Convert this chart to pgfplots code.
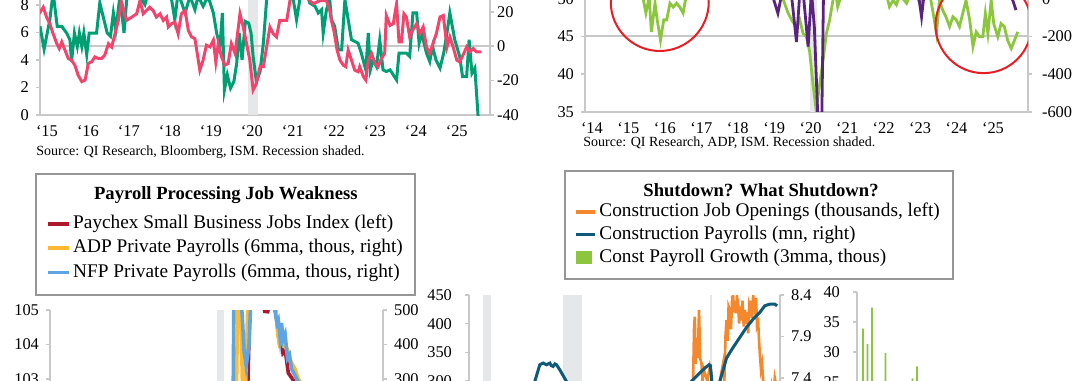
\documentclass[border=0pt]{standalone}
\usepackage{pgfplots}
\pgfplotsset{compat=1.18}
\usepackage{fontspec}
\setmainfont{Liberation Serif}
\definecolor{axgray}{RGB}{200,200,200}
\definecolor{shadegray}{RGB}{230,231,232}
\definecolor{boxgray}{RGB}{150,150,150}
\definecolor{teal1}{RGB}{0,158,115}
\definecolor{pink1}{RGB}{240,70,110}
\definecolor{lgreen}{RGB}{140,198,63}
\definecolor{purp}{RGB}{90,35,125}
\definecolor{circred}{RGB}{232,30,36}
\definecolor{dred}{RGB}{175,25,45}
\definecolor{gold}{RGB}{252,185,50}
\definecolor{sky}{RGB}{95,165,225}
\definecolor{orng}{RGB}{245,135,45}
\definecolor{petrol}{RGB}{15,90,120}
\pgfplotsset{
  base/.style={scale only axis,
    axis line style={draw=axgray, line width=1pt},
    major tick length=2pt, tick align=outside,
    tick style={draw=axgray, line width=0.8pt},
    ticklabel style={font=\fontsize{8.2}{9}\selectfont, text=black},
    /pgf/number format/assume math mode=true},
  leftax/.style={base, axis x line*=bottom, axis y line*=left, xtick style={draw=none}},
  rightax/.style={base, axis x line=none, axis y line*=right},
}
\newcommand{\legfont}{\fontsize{9.65}{11.5}\selectfont}
\newcommand{\legtfont}{\fontsize{9.3}{11}\selectfont}
\begin{document}
\begin{tikzpicture}
\useasboundingbox (0,0) rectangle (540pt,-190pt);
\clip (0,0) rectangle (540pt,-190pt);

% ---------------- Panel 1 ----------------
\begin{axis}[leftax, at={(20pt,-57.5pt)}, anchor=south west, width=225pt, height=68.75pt,
  xmin=2014.83, xmax=2025.81, ymin=0, ymax=10, ytick={0,2,...,10},
  xtick={2015,...,2025}, xticklabels={`15,`16,`17,`18,`19,`20,`21,`22,`23,`24,`25}]
\fill[shadegray] (axis cs:2019.9,0) rectangle (axis cs:2020.15,10);
\draw[axgray, line width=1pt] (axis cs:2014.83,5) -- (axis cs:2025.81,5);
\addplot[teal1, line width=1.5pt] coordinates {
(2014.83,6.45)(2014.93,4.79)(2015.07,6.93)(2015.15,8.9)(2015.25,6.45)(2015.36,6.45)(2015.48,5.96)(2015.56,5.47)(2015.60,3.89)(2015.67,5.96)(2015.74,4.99)(2015.79,5.96)(2015.85,4.99)(2015.90,5.96)(2015.97,4.38)(2016.03,5.96)(2016.21,5.96)(2016.29,8.15)(2016.39,6.93)(2016.47,5.96)(2016.55,5.72)(2016.62,7.42)(2016.68,6.20)(2016.78,8.64)(2016.88,5.96)(2016.96,8.9)(2017.07,9.85)(2017.19,9.37)(2017.31,8.4)(2017.39,8.03)(2017.47,8.9)(2017.59,9.85)(2017.76,9.37)(2017.92,9.12)(2018.04,8.4)(2018.12,6.93)(2018.20,8.9)(2018.37,7.42)(2018.49,8.64)(2018.61,7.66)(2018.69,8.64)(2018.81,7.91)(2018.93,8.64)(2019.06,7.42)(2019.14,5.96)(2019.22,4.99)(2019.28,7.42)(2019.33,1.82)(2019.40,2.92)(2019.48,1.95)(2019.56,2.43)(2019.63,3.77)(2019.69,5.96)(2019.76,4.01)(2019.84,6.81)(2019.92,6.69)(2019.98,5.96)(2020.03,4.26)(2020.11,2.43)(2020.20,3.16)(2020.28,5.23)(2020.36,8.4)(2020.48,9.37)(2020.68,9.85)(2021.01,8.4)(2021.09,6.93)(2021.17,8.4)(2021.29,9.37)(2021.41,8.15)(2021.54,7.91)(2021.62,7.42)(2021.70,7.66)(2021.74,5.96)(2021.82,7.66)(2021.90,8.4)(2021.94,6.93)(2022.02,6.45)(2022.11,4.74)(2022.19,4.74)(2022.27,8.4)(2022.35,6.93)(2022.43,5.47)(2022.51,5.35)(2022.59,5.23)(2022.67,4.5)(2022.78,3.28)(2022.84,5.96)(2022.89,3.28)(2022.96,4.01)(2023.04,3.53)(2023.12,5.47)(2023.20,3.28)(2023.28,3.16)(2023.37,3.28)(2023.45,2.92)(2023.53,2.55)(2023.59,4.5)(2023.67,4.5)(2023.77,4.5)(2023.85,4.26)(2023.93,7.42)(2024.02,7.42)(2024.08,5.23)(2024.14,5.96)(2024.22,4.99)(2024.26,4.5)(2024.34,3.89)(2024.41,4.99)(2024.49,4.01)(2024.59,3.41)(2024.68,4.5)(2024.76,5.96)(2024.83,7.42)(2024.89,6.45)(2024.95,5.47)(2025.07,4.26)(2025.14,2.80)(2025.24,2.80)(2025.30,5.47)(2025.37,3.04)(2025.44,3.41)(2025.52,-0.1)};
\end{axis}
\begin{axis}[rightax, at={(20pt,-57.5pt)}, anchor=south west, width=225pt, height=68.75pt,
  xmin=2014.83, xmax=2025.81, ymin=-40, ymax=40, ytick={-40,-20,...,40},
  yticklabel style={xshift=-2pt}]
\addplot[pink1, line width=1.5pt] coordinates {
(2014.81,18.9)(2014.91,22.7)(2014.99,17.0)(2015.07,13.1)(2015.15,7.3)(2015.24,1.5)(2015.30,-1.3)(2015.36,2.5)(2015.44,-2.3)(2015.52,-7.1)(2015.60,-8.1)(2015.68,-11.0)(2015.76,-16.8)(2015.85,-20.6)(2015.93,-19.7)(2016.01,-10.0)(2016.09,-9.1)(2016.17,-6.2)(2016.25,-7.1)(2016.33,-7.1)(2016.41,-5.2)(2016.50,1.5)(2016.58,-0.4)(2016.66,7.3)(2016.74,15.0)(2016.82,25.6)(2016.94,15.0)(2017.07,17.0)(2017.19,18.9)(2017.27,26.6)(2017.35,18.9)(2017.43,20.8)(2017.51,22.7)(2017.59,20.8)(2017.67,17.0)(2017.76,18.9)(2017.84,15.0)(2017.92,17.0)(2017.96,11.2)(2018.04,13.1)(2018.12,14.1)(2018.20,7.3)(2018.28,18.9)(2018.37,20.8)(2018.45,9.2)(2018.53,5.4)(2018.61,4.4)(2018.73,-13.9)(2018.81,-8.1)(2018.89,0.6)(2018.98,-0.4)(2019.06,3.5)(2019.12,-9.1)(2019.18,1.5)(2019.26,-6.2)(2019.34,-11.0)(2019.42,-10.0)(2019.50,1.5)(2019.59,-4.2)(2019.64,5.4)(2019.71,18.9)(2019.79,11.2)(2019.87,1.5)(2019.95,-8.1)(2020.03,-25.4)(2020.11,-21.6)(2020.20,-11.9)(2020.28,-11.9)(2020.36,-0.4)(2020.44,11.2)(2020.52,7.3)(2020.60,5.4)(2020.68,15.0)(2020.76,15.0)(2020.85,15.0)(2020.93,26.6)(2021.01,30)(2021.2,34)(2021.41,26.6)(2021.50,24.7)(2021.66,26.6)(2021.82,26.6)(2021.90,20.8)(2021.94,15.0)(2022.00,9.2)(2022.08,-2.3)(2022.15,-8.1)(2022.23,-11.0)(2022.29,-11.9)(2022.35,-2.3)(2022.43,-8.1)(2022.51,-13.9)(2022.59,-14.8)(2022.63,-11.9)(2022.72,-17.7)(2022.78,-19.7)(2022.84,-8.1)(2022.92,-4.2)(2023.00,-10.0)(2023.08,-11.9)(2023.16,-7.1)(2023.24,-4.2)(2023.28,17.9)(2023.37,12.1)(2023.45,13.1)(2023.53,24.7)(2023.59,2.5)(2023.65,2.5)(2023.71,18.9)(2023.77,17.0)(2023.85,5.4)(2023.92,9.2)(2024.02,13.1)(2024.10,7.3)(2024.18,11.2)(2024.26,-0.4)(2024.34,-4.2)(2024.42,1.5)(2024.50,7.3)(2024.59,17.0)(2024.67,17.9)(2024.76,-0.4)(2024.83,5.4)(2024.91,-0.4)(2025.00,-8.1)(2025.07,-9.1)(2025.15,-5.2)(2025.24,-0.4)(2025.32,-3.3)(2025.40,-1.3)(2025.48,-3.3)(2025.60,-3.3)};
\end{axis}
\node[anchor=west, inner sep=0, font=\fontsize{7}{8}\selectfont] at (18pt,-76pt) {Source: QI Research, Bloomberg, ISM. Recession shaded.};

% ---------------- Panel 2 ----------------
\begin{axis}[leftax, at={(292.5pt,-55.85pt)}, anchor=south west, width=221.5pt, height=94.1pt,
  xmin=2013.81, xmax=2025.96, ymin=35, ymax=60, ytick={35,40,...,60},
  xtick={2014,...,2025}, xticklabels={`14,`15,`16,`17,`18,`19,`20,`21,`22,`23,`24,`25}]
\fill[shadegray] (axis cs:2019.97,35) rectangle (axis cs:2020.16,60);
\draw[axgray, line width=1pt] (axis cs:2013.81,45) -- (axis cs:2025.96,45);
\addplot[lgreen, line width=1.4pt] coordinates {
(2013.81,53.5)(2014.0,54)(2014.3,56)(2014.6,55)(2014.9,57)(2015.1,55)(2015.3,52)(2015.41,49.9)(2015.48,48.1)(2015.57,50.2)(2015.63,45.6)(2015.73,49.4)(2015.79,47.2)(2015.88,44.5)(2015.97,47.2)(2016.05,47.2)(2016.14,49.4)(2016.23,48.9)(2016.32,49.4)(2016.41,48.9)(2016.50,48.1)(2016.59,50.5)(2016.8,53)(2017.2,56)(2017.7,55)(2018.2,57)(2018.7,56)(2019.0,53)(2019.2,50.5)(2019.38,48.1)(2019.5,47.0)(2019.61,46.3)(2019.70,47.2)(2019.79,45.4)(2019.88,45.0)(2019.97,43)(2020.06,38.8)(2020.15,35.2)(2020.25,38.8)(2020.34,41.9)(2020.43,45.4)(2020.52,47.2)(2020.61,49.8)(2020.68,51)(2020.74,48.95)(2020.84,50.5)(2021.0,53)(2021.5,56)(2022.0,52)(2022.16,48.95)(2022.26,49.8)(2022.35,49.2)(2022.44,50.5)(2022.53,50.0)(2022.63,49.4)(2022.72,50.5)(2022.81,50.1)(2022.90,50.6)(2022.99,49.4)(2023.08,50.3)(2023.17,51)(2023.27,50.5)(2023.36,48.06)(2023.45,45.4)(2023.53,49.8)(2023.62,48.5)(2023.71,47.6)(2023.81,46.3)(2023.90,47.6)(2023.99,47.2)(2024.08,46.3)(2024.17,48.06)(2024.26,49.8)(2024.36,47.2)(2024.45,43.65)(2024.54,45.6)(2024.63,44.96)(2024.72,44.96)(2024.79,48.06)(2024.86,45.4)(2024.95,49.8)(2025.02,46.7)(2025.13,44.96)(2025.22,46.7)(2025.31,46.3)(2025.40,44.5)(2025.50,43.4)(2025.59,44.5)(2025.68,45.6)};
\end{axis}
\begin{axis}[rightax, at={(292.5pt,-55.85pt)}, anchor=south west, width=221.5pt, height=94.1pt,
  xmin=2013.81, xmax=2025.96, ymin=-600, ymax=400, ytick={-600,-400,...,400},
  yticklabel style={xshift=1.5pt}]
\addplot[purp, line width=1.4pt] coordinates {
(2013.81,150)(2014.5,180)(2015.0,200)(2015.5,170)(2016.0,150)(2016.5,160)(2017.0,200)(2017.5,190)(2018.0,210)(2018.5,180)(2018.85,60)(2018.97,5)(2019.10,-77)(2019.20,20)(2019.30,60)(2019.47,25)(2019.61,-230)(2019.70,30)(2019.80,20)(2019.93,-254)(2020.02,40)(2020.10,-150)(2020.21,-700)(2020.30,-700)(2020.37,300)(2020.6,420)(2021.0,350)(2021.5,380)(2022.0,330)(2022.5,250)(2022.9,100)(2023.04,-96)(2023.13,60)(2023.5,120)(2024.0,90)(2024.5,110)(2025.0,70)(2025.4,40)(2025.54,-7)(2025.63,-60)};
\draw[circred, line width=1pt] (axis cs:2015.86,-17) circle [radius=24.5pt];
\draw[circred, line width=1pt] (axis cs:2024.74,-140) circle [radius=24pt];
\end{axis}
\node[anchor=west, inner sep=0, font=\fontsize{7}{8}\selectfont] at (291.5pt,-71.5pt) {Source: QI Research, ADP, ISM. Recession shaded.};

% ---------------- Legend box 1 ----------------
\draw[boxgray, line width=0.9pt, fill=white] (18.15pt,-86.9pt) rectangle (207.6pt,-147.5pt);
\node[font=\bfseries\legtfont, inner sep=0] at (112.9pt,-97.3pt) {Payroll Processing Job Weakness};
\draw[dred, line width=1.8pt] (24.2pt,-112pt) -- (34.6pt,-112pt);
\node[anchor=west, inner sep=0, font=\legfont] at (36.4pt,-112pt) {Paychex Small Business Jobs Index (left)};
\draw[gold, line width=1.8pt] (24.2pt,-124pt) -- (34.6pt,-124pt);
\node[anchor=west, inner sep=0, font=\legfont] at (36.4pt,-124pt) {ADP Private Payrolls (6mma, thous, right)};
\draw[sky, line width=1.8pt] (24.2pt,-136.25pt) -- (34.6pt,-136.25pt);
\node[anchor=west, inner sep=0, font=\legfont] at (36.4pt,-136.25pt) {NFP Private Payrolls (6mma, thous, right)};

% ---------------- Legend box 2 ----------------
\draw[boxgray, line width=0.9pt, fill=white] (282.5pt,-85.5pt) rectangle (476.5pt,-139.5pt);
\node[font=\bfseries\legtfont, inner sep=0] at (380.5pt,-95.2pt) {Shutdown? What Shutdown?};
\draw[orng, line width=1.8pt] (288pt,-106pt) -- (297.5pt,-106pt);
\node[anchor=west, inner sep=0, font=\legfont] at (299.5pt,-106pt) {Construction Job Openings (thousands, left)};
\draw[petrol, line width=1.8pt] (288pt,-117.2pt) -- (297.5pt,-117.2pt);
\node[anchor=west, inner sep=0, font=\legfont] at (299.5pt,-117.2pt) {Construction Payrolls (mn, right)};
\fill[lgreen] (288pt,-125.7pt) rectangle (296pt,-132.2pt);
\node[anchor=west, inner sep=0, font=\legfont] at (299.5pt,-129pt) {Const Payroll Growth (3mma, thous)};

% ---------------- Panel 3 ----------------
\begin{axis}[leftax, at={(25pt,-155pt)}, anchor=north west, width=166.5pt, height=51.75pt,
  xmin=2014.5, xmax=2025.79, ymin=102, ymax=105, ytick={102,103,104,105}, xtick=\empty]
\fill[shadegray] (axis cs:2020.16,102) rectangle (axis cs:2020.4,105);
\addplot[dred, line width=1.8pt] coordinates {
(2014.5,101.5)(2016,101.8)(2018,102.0)(2020.0,101.8)(2020.3,98)(2020.7,100)(2021.0,101.5)(2021.2,102.6)(2021.28,105.3)(2021.5,105.6)(2021.7,105.3)(2021.78,104.96)(2021.88,104.95)(2021.96,105.3)(2022.1,105.4)(2022.2,104.6)(2022.27,104.13)(2022.33,104.25)(2022.4,103.74)(2022.48,103.8)(2022.58,103.17)(2022.68,103.05)(2022.8,102.9)(2022.92,102.6)(2023.5,102.2)(2024.5,101.8)(2025.5,101.5)};
\end{axis}
\begin{axis}[rightax, at={(25pt,-155pt)}, anchor=north west, width=166.5pt, height=51.75pt,
  xmin=2014.5, xmax=2025.79, ymin=200, ymax=500, ytick={200,300,400,500}]
\addplot[gold, line width=1.8pt] coordinates {
(2014.5,200)(2018,190)(2020.0,180)(2020.3,-500)(2020.7,100)(2020.82,250)(2020.88,650)(2020.95,600)(2021.02,300)(2021.12,250)(2021.25,650)(2021.5,700)(2022.0,650)(2022.15,520)(2022.22,430)(2022.27,405)(2022.35,420)(2022.42,395)(2022.5,392)(2022.55,386)(2022.62,360)(2022.7,345)(2022.8,330)(2022.92,300)(2023.3,250)(2024,180)(2025.5,100)};
\addplot[sky, line width=1.8pt] coordinates {
(2014.5,190)(2018,185)(2020.0,170)(2020.3,-600)(2020.7,150)(2020.75,700)(2020.85,620)(2020.95,560)(2021.02,480)(2021.08,380)(2021.15,338)(2021.25,400)(2021.35,620)(2021.6,700)(2022.0,650)(2022.1,540)(2022.13,495)(2022.2,462)(2022.24,470)(2022.3,420)(2022.35,462)(2022.4,414)(2022.47,430)(2022.55,360)(2022.62,370)(2022.69,329)(2022.81,310)(2022.92,290)(2023.3,230)(2024,170)(2025.5,80)};
\end{axis}

% ---------------- Panel 4 ----------------
\begin{axis}[leftax, at={(234.5pt,-147.5pt)}, anchor=north west, width=155.5pt, height=86pt,
  xmin=2000.2, xmax=2025.9, ymin=150, ymax=450, ytick={150,200,...,450}, xtick=\empty,
  yticklabel style={xshift=-3pt}]
\fill[shadegray] (axis cs:2001.34,150) rectangle (axis cs:2002.0,450);
\fill[shadegray] (axis cs:2007.95,150) rectangle (axis cs:2009.52,450);
\fill[shadegray] (axis cs:2020.15,150) rectangle (axis cs:2020.3,450);
\addplot[orng, line width=1.3pt] coordinates {
(2000.9,280)(2002,200)(2004,180)(2006,240)(2007,230)(2008,180)(2009,100)(2011,90)(2013,120)(2015,170)(2017,220)(2018,260)(2018.6,290)(2018.72,302)(2018.8,395)(2018.86,412)(2018.93,330)(2019.0,360)(2019.1,340)(2019.21,424)(2019.3,340)(2019.41,331)(2019.5,300)(2019.6,320)(2019.69,314)(2019.9,300)(2020.1,325)(2020.25,310)(2020.37,250)(2020.6,230)(2020.93,300)(2021.2,331)(2021.3,300)(2021.4,380)(2021.48,406)(2021.58,370)(2021.65,430)(2021.75,424)(2021.85,390)(2021.95,447)(2022.03,448)(2022.1,420)(2022.18,440)(2022.25,418)(2022.35,446)(2022.44,435)(2022.52,400)(2022.6,430)(2022.72,406)(2022.8,440)(2022.9,395)(2023.0,424)(2023.1,400)(2023.2,420)(2023.27,383)(2023.35,430)(2023.41,424)(2023.5,440)(2023.6,410)(2023.68,450)(2023.75,432)(2023.82,424)(2023.92,445)(2024.0,395)(2024.1,401)(2024.17,370)(2024.23,348)(2024.33,320)(2024.42,330)(2024.5,302)(2024.7,280)(2025.0,260)(2025.2,290)(2025.33,270)(2025.47,305)(2025.6,290)};
\end{axis}
\begin{axis}[rightax, at={(234.5pt,-147.5pt)}, anchor=north west, width=155.5pt, height=86pt,
  xmin=2000.2, xmax=2025.9, ymin=6.328, ymax=8.4, ytick={6.4,6.9,7.4,7.9,8.4},
  yticklabel style={/pgf/number format/fixed, /pgf/number format/precision=1}]
\addplot[petrol, line width=1.5pt] coordinates {
(2000.2,6.75)(2001,6.85)(2002,6.72)(2003,6.75)(2004,6.95)(2005,7.2)(2005.64,7.36)(2006.05,7.56)(2006.32,7.58)(2006.6,7.56)(2006.88,7.58)(2007.0,7.55)(2007.15,7.54)(2007.3,7.57)(2007.43,7.56)(2007.7,7.50)(2008.25,7.36)(2009,6.8)(2010,6.1)(2011,5.95)(2013,6.1)(2015,6.5)(2017,6.9)(2018.0,7.2)(2018.58,7.36)(2019.27,7.46)(2019.69,7.52)(2020.04,7.56)(2020.15,7.55)(2020.24,7.40)(2020.3,6.55)(2020.5,7.1)(2020.93,7.36)(2021.48,7.64)(2022.03,7.77)(2022.58,7.89)(2023.13,8.01)(2023.68,8.11)(2024.23,8.19)(2024.64,8.27)(2025.06,8.29)(2025.47,8.29)(2025.66,8.27)};
\end{axis}

% ---------------- Panel 5 ----------------
\begin{axis}[leftax, at={(428.5pt,-146pt)}, anchor=north west, width=108.75pt, height=120pt,
  xmin=-0.33, xmax=48, ymin=0, ymax=40, ytick={0,5,...,40}, xtick=\empty,
  yticklabel style={xshift=-3pt}]
\addplot[ybar, bar width=0.8pt, fill=lgreen, draw=none] coordinates {
(0,22)(1,33.9)(2,31.3)(3,37.4)(4,24)(5,22)(6,29.8)(7,23)(8,20)(9,21)(10,23)(11,24)(12,25.6)(13,27.6)(14,22)(15,18)(16,20)(17,15)(18,17)(19,12)(20,14)(21,16)(22,11)(23,13)(24,9)(25,12)(26,10)(27,8)(28,11)(29,7)(30,9)(31,6)(32,8)(33,5)(34,7)(35,4)(36,6)(37,3)(38,5)(39,2)(40,4)(41,1)(42,3)(43,2)(44,1)(45,2)(46,1)(47,0.5)};
\end{axis}
\end{tikzpicture}
\end{document}
